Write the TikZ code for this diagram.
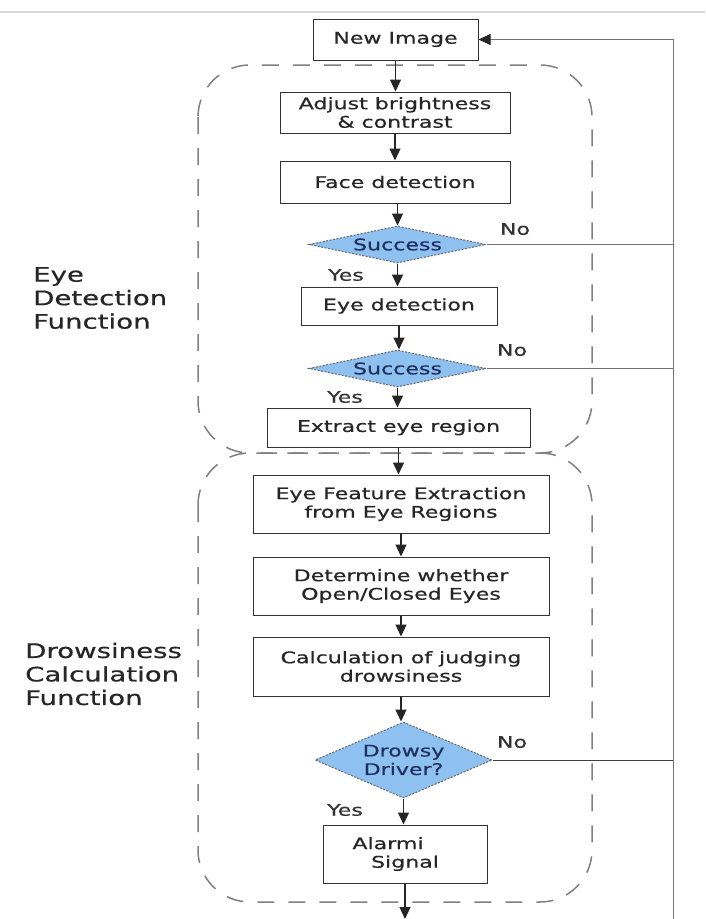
\documentclass[tikz,border=0pt]{standalone}
\usepackage{fontspec}
\setmainfont{DejaVu Sans}[FakeStretch=1.38,FakeBold=0.6]
\usetikzlibrary{shapes.geometric,arrows.meta}
\newcommand\bxfont{\fontsize{16}{18.5}\selectfont}
\newcommand\sidefont{\fontsize{20}{23.5}\selectfont}
\definecolor{decfill}{RGB}{142,192,240}
\definecolor{dectext}{RGB}{30,48,96}
\begin{document}
\begin{tikzpicture}[x=1pt,y=-1pt,
  stepbox/.style={draw=black!80, line width=1pt, fill=white, inner sep=0pt,
    align=center, font=\bxfont, text=black!85},
  decision/.style={diamond, draw=black!60, dash pattern=on 2pt off 1.5pt,
    line width=1pt, fill=decfill, inner sep=0pt, align=center,
    font=\bxfont, text=dectext},
  flow/.style={draw=black!85, line width=1.1pt,
    -{Triangle[length=12pt,width=11pt]}},
  back/.style={draw=black!55, line width=1pt},
  region/.style={draw=black!50, line width=1.5pt, rounded corners=52pt,
    dash pattern=on 17pt off 14pt},
  answer/.style={font=\bxfont, text=black!80, inner sep=0pt},
  sidelabel/.style={font=\sidefont, text=black!85, align=left, inner sep=0pt, anchor=west}
]
\useasboundingbox (0,0) rectangle (705,919);
\fill[white] (0,0) rectangle (705,919);

% faint rule across the top
\draw[black!15, line width=1.5pt] (0,12) -- (705,12);

% the two function groups
\draw[region] (198,65) rectangle (592,453);
\draw[region] (198,453) rectangle (592,902);

\node[sidelabel] (lblEye) at (33,298) {Eye\\Detection\\Function};
\node[sidelabel] (lblDrow) at (25,674) {Drowsiness\\Calculation\\Function};

% process steps
\node[stepbox, minimum width=165pt, minimum height=41pt] (newimg) at (395.5,39.5) {New Image};
\node[stepbox, minimum width=230pt, minimum height=41pt] (adjust) at (395,112.5) {Adjust brightness\\\& contrast};
\node[stepbox, minimum width=230pt, minimum height=42pt] (face) at (395,182) {Face detection};
\node[decision, shape aspect=4.8, minimum width=177pt, minimum height=37pt] (succ1) at (397.5,244.5) {Success};
\node[stepbox, minimum width=196pt, minimum height=38pt] (eyedet) at (399,306) {Eye detection};
\node[decision, shape aspect=4.8, minimum width=177pt, minimum height=37pt] (succ2) at (397.5,368.5) {Success};
\node[stepbox, minimum width=263pt, minimum height=39pt] (extract) at (398.5,427.5) {Extract eye region};
\node[stepbox, minimum width=296pt, minimum height=58pt] (feature) at (401,504) {Eye Feature Extraction\\from Eye Regions};
\node[stepbox, minimum width=296pt, minimum height=58pt] (openclose) at (401,586) {Determine whether\\Open/Closed Eyes};
\node[stepbox, minimum width=296pt, minimum height=59pt] (judge) at (401,666.5) {Calculation of judging\\drowsiness};
\node[decision, shape aspect=2.33, minimum width=177pt, minimum height=76pt] (drowsy) at (403.5,760) {Drowsy\\Driver?};
\node[stepbox, minimum width=164pt, minimum height=58pt] (alarm) at (405,854) {\hspace*{-34pt}Alarmi\\Signal};

% yes / no labels
\node[answer] (no1) at (515,229) {No};
\node[answer] (yes1) at (346,275) {Yes};
\node[answer] (no2) at (512,350) {No};
\node[answer] (yes2) at (345,397) {Yes};
\node[answer] (no3) at (512,742) {No};
\node[answer] (yes3) at (345,810) {Yes};

% main flow
\draw[flow] (newimg.south) -- (newimg.south |- adjust.north);
\draw[flow] (adjust.south) -- (adjust.south |- face.north);
\draw[flow] (face.south) -- (face.south -| succ1.north) -- (succ1.north);
\draw[flow] (succ1.south) -- (succ1.south |- eyedet.north);
\draw[flow] (eyedet.south) -- (eyedet.south |- succ2.north);
\draw[flow] (succ2.south) -- (succ2.south |- extract.north);
\draw[flow] (extract.south) -- (extract.south |- feature.north);
\draw[flow] (feature.south) -- (feature.south |- openclose.north);
\draw[flow] (openclose.south) -- (openclose.south |- judge.north);
\draw[flow] (judge.south) -- (judge.south |- drowsy.north);
\draw[flow] (drowsy.south) -- (drowsy.south |- alarm.north);
\coordinate (out) at (405,919);
\draw[flow] (alarm.south) -- (out);

% return path to a new image
\coordinate (rtop) at (673,39.5);
\coordinate (rbot) at (673,919);
\draw[back, -{Triangle[length=12pt,width=11pt,color=black!85]}]
  (rbot) -- (rtop) -- (newimg.east);
\draw[back] (succ1.east) -- (succ1.east -| rtop);
\draw[back] (succ2.east) -- (succ2.east -| rtop);
\draw[back, draw=black!75] (drowsy.east) -- (drowsy.east -| rtop);
\end{tikzpicture}
\end{document}
